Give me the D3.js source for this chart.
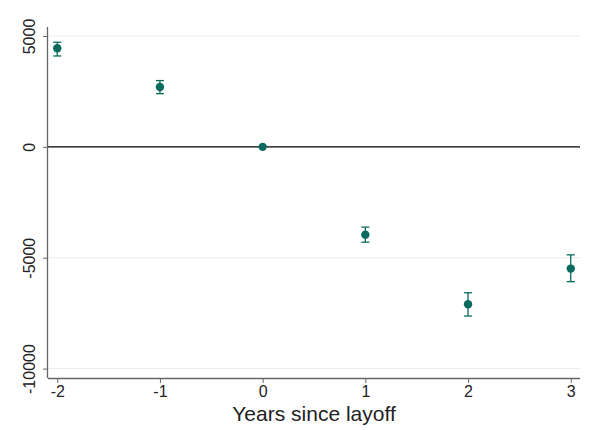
<!DOCTYPE html>
<html>
<head>
<meta charset="utf-8">
<script src="https://cdn.jsdelivr.net/npm/d3@7"></script>
<style>
  body { margin: 0; background: #fff; }
  text { font-family: "Liberation Sans", Arial, sans-serif; fill: #222; }
</style>
</head>
<body>
<svg id="container" width="599" height="430"></svg>
<script>
  // event-study estimates
  const years = [-2, -1, 0, 1, 2, 3];
  const estimates = [4450, 2700, 0, -3960, -7100, -5490];
  const lowerCI = [4100, 2400, 0, -4300, -7630, -6080];
  const upperCI = [4720, 2990, 0, -3620, -6580, -4870];
  const yTicks = [5000, 0, -5000, -10000];

  const points = years.map((yr, i) => ({
    yr, est: estimates[i], lo: lowerCI[i], hi: upperCI[i]
  }));

  const svg = d3.select('#container');
  const plotLeft = 48, plotRight = 580, plotTop = 27, plotBottom = 378;
  const teal = '#0b6a5e';
  const fmt = d => String(d); // plain hyphen minus like the original

  const x = d3.scaleLinear().domain([-2.09, 3.09]).range([plotLeft, plotRight]);
  const y = d3.scaleLinear().domain([-10425, 5407]).range([plotBottom, plotTop]);

  // light gridlines
  svg.selectAll('.grid')
    .data(yTicks.filter(d => d !== 0))
    .enter()
    .append('line')
    .attr('x1', plotLeft).attr('x2', plotRight)
    .attr('y1', d => y(d)).attr('y2', d => y(d))
    .attr('stroke', '#eaeaea')
    .attr('stroke-width', 1);

  // zero reference line
  svg.append('line')
    .attr('x1', plotLeft).attr('x2', plotRight)
    .attr('y1', y(0)).attr('y2', y(0))
    .attr('stroke', '#000')
    .attr('stroke-width', 1.2);

  const xAxis = svg.append('g')
    .attr('transform', `translate(0,${plotBottom})`)
    .call(d3.axisBottom(x).tickValues(years).tickFormat(fmt).tickSize(5).tickPadding(3));
  xAxis.select('.domain').attr('stroke', '#666').attr('stroke-width', 1.3)
    .attr('d', `M${plotLeft},0.5H${plotRight}`);
  xAxis.selectAll('.tick line').attr('stroke', '#666');
  xAxis.selectAll('text').attr('font-size', 16).attr('fill', '#222')
    .style('font-family', '"Liberation Sans", Arial, sans-serif');

  const yAxis = svg.append('g')
    .attr('transform', `translate(${plotLeft},0)`)
    .call(d3.axisLeft(y).tickValues(yTicks).tickFormat(fmt).tickSize(5).tickPadding(4));
  yAxis.select('.domain').attr('stroke', '#666').attr('stroke-width', 1.3)
    .attr('d', `M-0.5,${plotTop}V${plotBottom}`);
  yAxis.selectAll('.tick line').attr('stroke', '#666');
  yAxis.selectAll('text')
    .attr('font-size', 16).attr('fill', '#222')
    .style('font-family', '"Liberation Sans", Arial, sans-serif')
    .attr('x', 0).attr('dy', 0)
    .attr('text-anchor', 'middle')
    .attr('transform', 'translate(-13,0) rotate(-90)');

  // error bars
  const cap = 4;
  const bars = svg.selectAll('.err')
    .data(points.filter(p => p.hi !== p.lo))
    .enter()
    .append('g')
    .attr('stroke', teal)
    .attr('stroke-width', 1.3);
  bars.append('line')
    .attr('x1', p => x(p.yr)).attr('x2', p => x(p.yr))
    .attr('y1', p => y(p.hi)).attr('y2', p => y(p.lo));
  bars.append('line')
    .attr('x1', p => x(p.yr) - cap).attr('x2', p => x(p.yr) + cap)
    .attr('y1', p => y(p.hi)).attr('y2', p => y(p.hi));
  bars.append('line')
    .attr('x1', p => x(p.yr) - cap).attr('x2', p => x(p.yr) + cap)
    .attr('y1', p => y(p.lo)).attr('y2', p => y(p.lo));

  svg.selectAll('circle')
    .data(points)
    .enter()
    .append('circle')
    .attr('cx', p => x(p.yr))
    .attr('cy', p => y(p.est))
    .attr('r', 4.2)
    .attr('fill', teal);

  svg.append('text')
    .attr('x', 314)
    .attr('y', 421)
    .attr('text-anchor', 'middle')
    .attr('font-size', 21)
    .text('Years since layoff');
</script>
</body>
</html>
